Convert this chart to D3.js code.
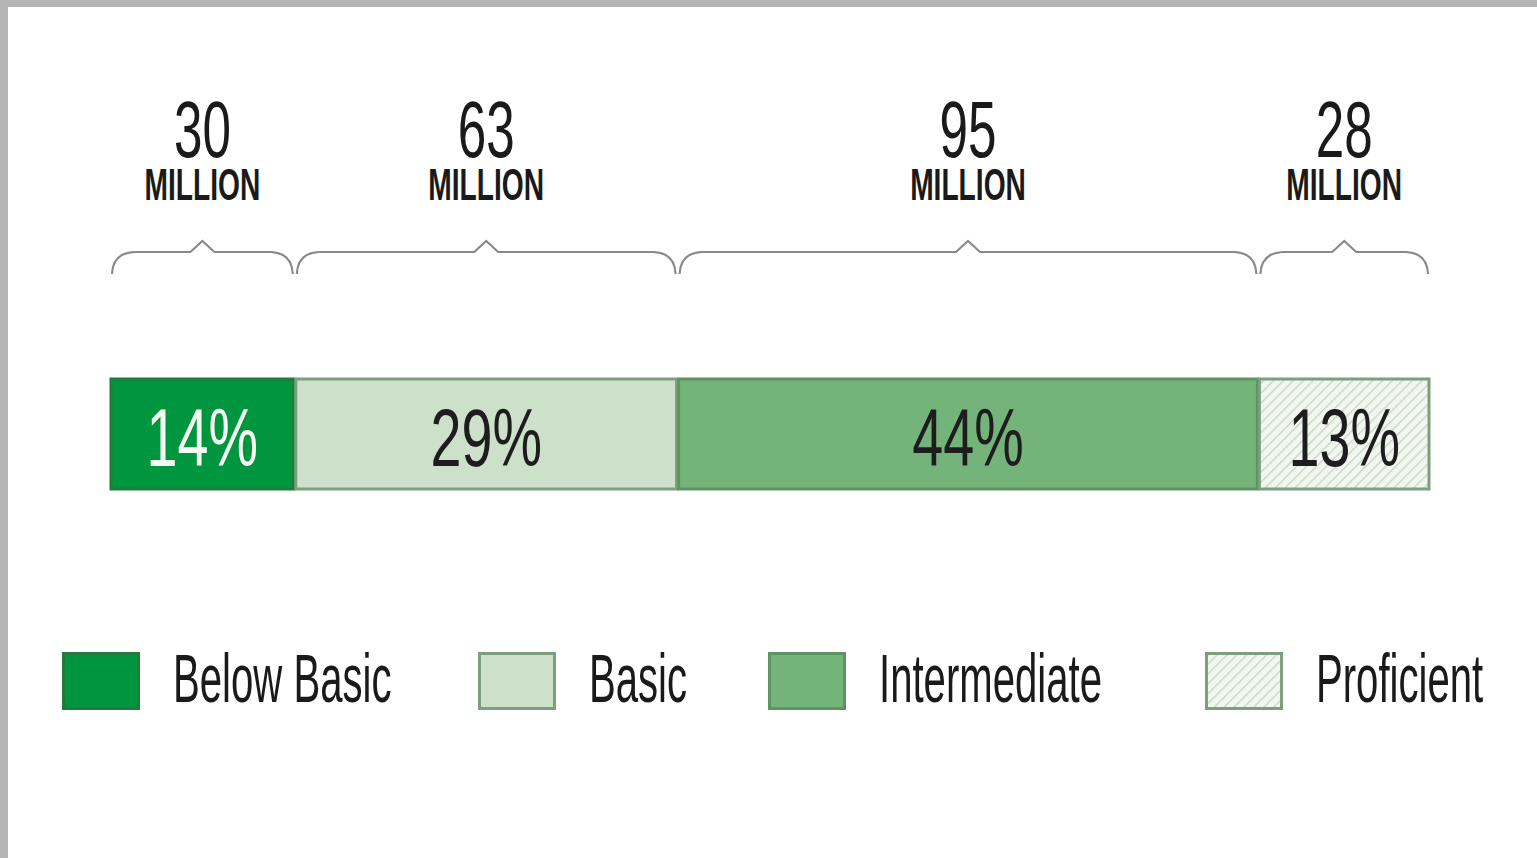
<!DOCTYPE html>
<html>
<head>
<meta charset="utf-8">
<script src="https://cdn.jsdelivr.net/npm/d3@7"></script>
<style>
  html, body { margin: 0; padding: 0; background: #fff; }
  svg { display: block; }
  text { font-family: "Liberation Sans", Arial, sans-serif; }
</style>
</head>
<body>
<svg id="chart" width="1537" height="858"></svg>
<script>
// ---- data ----
const categories = ["Below Basic", "Basic", "Intermediate", "Proficient"];
const percents = [14, 29, 44, 13];
const millions = [30, 63, 95, 28];
const percentLabels = ["14%", "29%", "44%", "13%"];
const millionUnit = "MILLION";

// ---- styles ----
const fills = ["#00953f", "#cde0c9", "#74b47b", "url(#hatch)"];
const strokes = ["#237a3f", "#7c9f7e", "#5e9463", "#7c9f7e"];
const labelColors = ["#f4fbf2", "#1d1d1d", "#1d1d1d", "#1d1d1d"];

const svg = d3.select("#chart");
const W = 1537, H = 858;

// background frame
svg.append("rect").attr("width", W).attr("height", H).attr("fill", "#fff");
svg.append("rect").attr("x", 0).attr("y", 0).attr("width", W).attr("height", 7).attr("fill", "#b4b4b4");
svg.append("rect").attr("x", 0).attr("y", 0).attr("width", 8).attr("height", H).attr("fill", "#b4b4b4");

// hatch pattern
const defs = svg.append("defs");
const pat = defs.append("pattern").attr("id", "hatch")
  .attr("patternUnits", "userSpaceOnUse").attr("width", 7).attr("height", 7)
  .attr("patternTransform", "rotate(45)");
pat.append("rect").attr("width", 7).attr("height", 7).attr("fill", "#f1f6ef");
pat.append("line").attr("x1", 0).attr("y1", 0).attr("x2", 0).attr("y2", 7)
  .attr("stroke", "#c3d4c1").attr("stroke-width", 2.5);

// scales
const x = d3.scaleLinear().domain([0, d3.sum(percents)]).range([110, 1430]);
const starts = d3.cumsum([0].concat(percents.slice(0, -1)));
const segs = categories.map((c, i) => ({
  cat: c, pct: percents[i], mil: millions[i], label: percentLabels[i],
  x0: x(starts[i]), x1: x(starts[i] + percents[i]), i
}));

const barY = 378, barH = 112;

// condensed text helper
function ctext(g, tx, ty, str, size, sx, weight, color, anchor) {
  return g.append("text")
    .attr("transform", `translate(${tx},${ty}) scale(${sx},1)`)
    .attr("text-anchor", anchor || "middle")
    .attr("font-size", size)
    .attr("font-weight", weight || "normal")
    .attr("fill", color)
    .text(str);
}

// bars
const barG = svg.append("g");
barG.selectAll("rect.seg").data(segs).join("rect")
  .attr("class", "seg")
  .attr("x", d => d.x0).attr("y", barY)
  .attr("width", d => d.x1 - d.x0).attr("height", barH)
  .attr("fill", d => fills[d.i]);
barG.selectAll("rect.outline").data(segs).join("rect")
  .attr("class", "outline")
  .attr("x", d => d.x0 + 1).attr("y", barY + 1)
  .attr("width", d => d.x1 - d.x0 - 2).attr("height", barH - 2)
  .attr("fill", "none")
  .attr("stroke", d => strokes[d.i]).attr("stroke-width", 3);

// percent labels
segs.forEach(d => {
  ctext(barG, (d.x0 + d.x1) / 2, barY + barH / 2 + 32, d.label, 82, 0.68, "normal", labelColors[d.i]);
});

// braces
const yb = 274, ym = 252, yp = 241;
function brace(x0, x1) {
  const xc = (x0 + x1) / 2;
  return `M${x0},${yb} Q${x0 + 1},${ym + 1} ${x0 + 22},${ym} L${xc - 12},${ym} L${xc},${yp} L${xc + 12},${ym} L${x1 - 22},${ym} Q${x1 - 1},${ym + 1} ${x1},${yb}`;
}
svg.append("g").selectAll("path").data(segs).join("path")
  .attr("d", d => brace(d.x0 + 2, d.x1 - 2))
  .attr("fill", "none").attr("stroke", "#8a8a8a").attr("stroke-width", 2.2);

// million labels (one text element with two lines)
const topG = svg.append("g");
segs.forEach(d => {
  const cx = (d.x0 + d.x1) / 2;
  const t = topG.append("text")
    .attr("transform", `translate(${cx},157) scale(0.64,1)`)
    .attr("text-anchor", "middle")
    .attr("fill", "#1a1a1a");
  t.append("tspan").attr("x", 0).attr("y", 0).attr("font-size", 80).text(String(d.mil));
  t.append("tspan").attr("x", 0).attr("y", 43).attr("font-size", 44).attr("font-weight", "bold").text(millionUnit);
});

// legend
const legendX = [62, 478, 768, 1205];
const legG = svg.append("g");
categories.forEach((c, i) => {
  legG.append("rect")
    .attr("x", legendX[i] + 1.5).attr("y", 653.5).attr("width", 75).attr("height", 55)
    .attr("fill", fills[i]).attr("stroke", strokes[i]).attr("stroke-width", 3);
  ctext(legG, legendX[i] + 111, 702, c, 68, 0.59, "normal", "#1a1a1a", "start");
});
</script>
</body>
</html>
